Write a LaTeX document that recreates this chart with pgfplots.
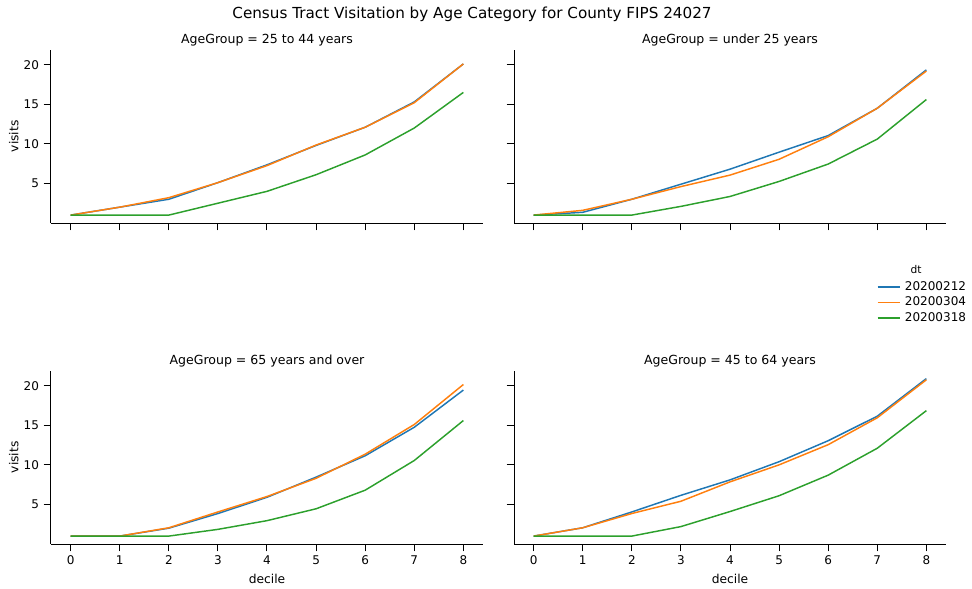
\documentclass[border=0pt]{standalone}
\usepackage{fontspec}
\setmainfont{DejaVu Sans}
\usepackage{pgfplots}
\pgfplotsset{compat=1.18}
\usepackage{pgfplotstable}
\definecolor{tabblue}{HTML}{1F77B4}
\definecolor{taborange}{HTML}{FF7F0E}
\definecolor{tabgreen}{HTML}{2CA02C}

% columns: decile, 20200212, 20200304, 20200318
\pgfplotstableread{
x a b c
0 1.0 1.0 1.0
1 2.0 2.0 1.0
2 3.0 3.2 1.0
3 5.1 5.1 2.5
4 7.35 7.25 4.0
5 9.8 9.85 6.1
6 12.1 12.1 8.6
7 15.3 15.2 12.0
8 20.1 20.1 16.5
}\ageA
\pgfplotstableread{
x a b c
0 1.0 1.0 1.0
1 1.35 1.6 1.0
2 3.0 3.0 1.0
3 4.9 4.6 2.1
4 6.8 6.05 3.35
5 8.95 8.05 5.25
6 11.05 10.9 7.45
7 14.5 14.5 10.6
8 19.35 19.2 15.6
}\ageB
\pgfplotstableread{
x a b c
0 1.0 1.0 1.0
1 1.0 1.0 1.0
2 2.0 2.05 1.0
3 3.85 4.05 1.85
4 5.9 6.0 2.95
5 8.45 8.3 4.45
6 11.15 11.35 6.8
7 14.75 15.1 10.55
8 19.45 20.15 15.6
}\ageC
\pgfplotstableread{
x a b c
0 1.0 1.0 1.0
1 2.05 2.05 1.0
2 4.05 3.85 1.0
3 6.15 5.4 2.2
4 8.1 7.85 4.1
5 10.4 10.0 6.1
6 13.05 12.55 8.7
7 16.15 15.95 12.1
8 20.9 20.75 16.85
}\ageD

\pgfplotsset{
  facet/.style={
    scale only axis, width=324pt, height=130pt,
    anchor=south west,
    xmin=-0.4, xmax=8.4, ymin=0.0, ymax=21.9,
    xtick={0,...,8}, ytick={5,10,15,20},
    axis lines=left, axis line style={-, line width=0.75pt},
    tick align=outside, major tick length=5.5pt,
    tick style={line width=0.75pt, black},
    /pgf/number format/assume math mode=true,
    tick label style={font=\fontsize{9}{10}\selectfont},
    label style={font=\fontsize{9.2}{10}\selectfont},
    ylabel style={yshift=-3pt},
    title style={font=\fontsize{9.4}{10}\selectfont, yshift=-6.5pt},
    every axis plot/.append style={line width=1.1pt, no markers},
  },
  notx/.style={xticklabels={}},
  noty/.style={yticklabels={}},
}

\begin{document}
\begin{tikzpicture}
\useasboundingbox (0,0) rectangle (729pt,-441.75pt);
\node[font=\fontsize{11.4}{13}\selectfont] at (354pt,-11pt) {Census Tract Visitation by Age Category for County FIPS 24027};

\begin{axis}[facet, notx, at={(38.25pt,-167.25pt)}, title={AgeGroup = 25 to 44 years}, ylabel={visits}]
\addplot[tabblue] table[x=x,y=a] {\ageA};
\addplot[taborange] table[x=x,y=b] {\ageA};
\addplot[tabgreen] table[x=x,y=c] {\ageA};
\end{axis}

\begin{axis}[facet, notx, noty, at={(385.5pt,-167.25pt)}, title={AgeGroup = under 25 years},
  legend style={draw=none, fill=none, at={(axis description cs:0.83,-0.305)}, anchor=north west,
    font=\fontsize{9}{10}\selectfont, row sep=-0.5pt,
    nodes={inner xsep=3pt}},
  legend cell align=left,
  legend image code/.code={\draw[#1, line width=1.1pt] (0pt,0pt) -- (17pt,0pt);}]
\addplot[tabblue] table[x=x,y=a] {\ageB};
\addlegendentry{20200212}
\addplot[taborange] table[x=x,y=b] {\ageB};
\addlegendentry{20200304}
\addplot[tabgreen] table[x=x,y=c] {\ageB};
\addlegendentry{20200318}
\end{axis}
\node[font=\fontsize{8}{9}\selectfont] at (687pt,-202.5pt) {dt};

\begin{axis}[facet, at={(38.25pt,-408pt)}, title={AgeGroup = 65 years and over}, ylabel={visits}, xlabel={decile}]
\addplot[tabblue] table[x=x,y=a] {\ageC};
\addplot[taborange] table[x=x,y=b] {\ageC};
\addplot[tabgreen] table[x=x,y=c] {\ageC};
\end{axis}

\begin{axis}[facet, noty, at={(385.5pt,-408pt)}, title={AgeGroup = 45 to 64 years}, xlabel={decile}]
\addplot[tabblue] table[x=x,y=a] {\ageD};
\addplot[taborange] table[x=x,y=b] {\ageD};
\addplot[tabgreen] table[x=x,y=c] {\ageD};
\end{axis}
\end{tikzpicture}
\end{document}
